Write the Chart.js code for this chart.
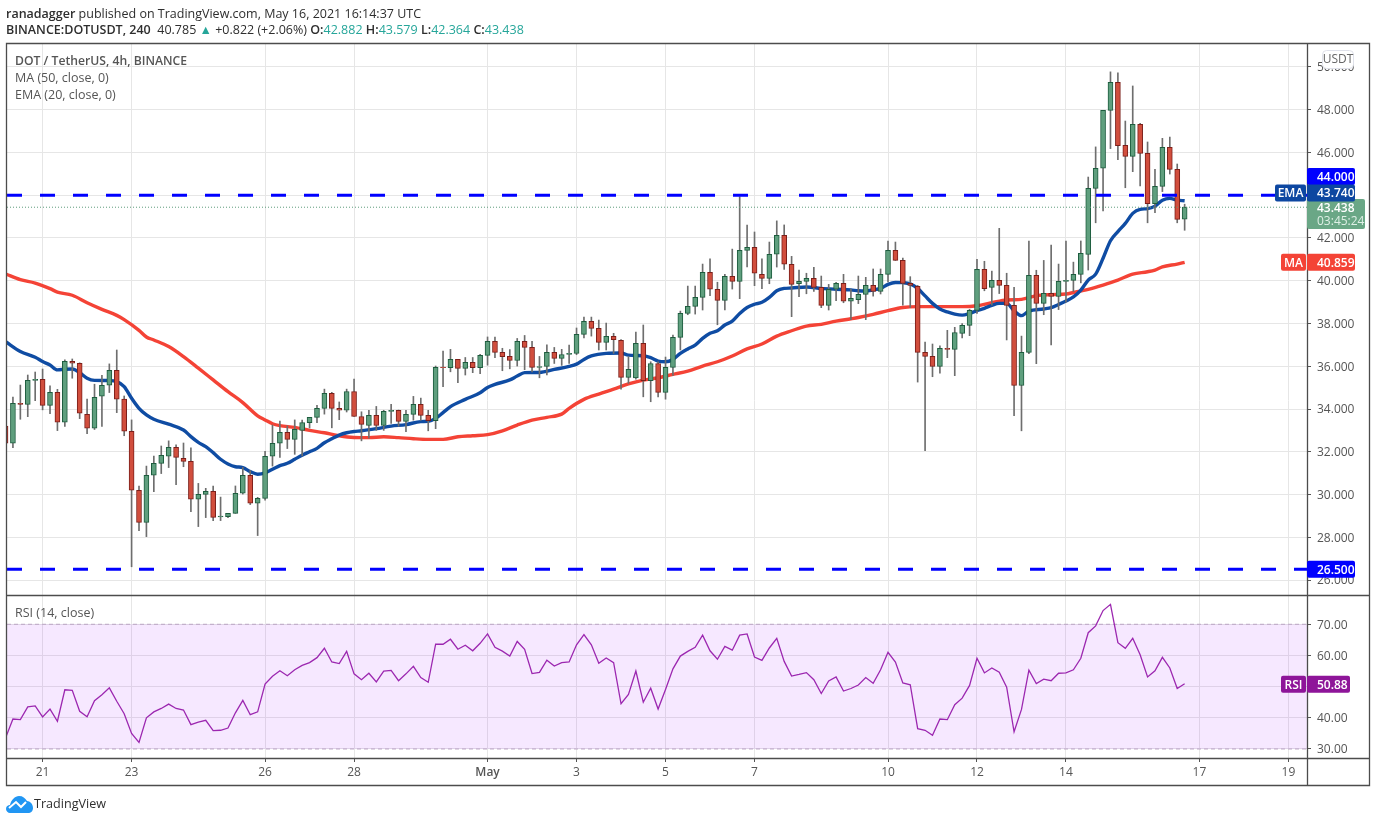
<!DOCTYPE html>
<html>
<head>
<meta charset="utf-8">
<title>DOT / TetherUS</title>
<script src="https://cdn.jsdelivr.net/npm/chart.js@4/dist/chart.umd.min.js"></script>
<style>
  body { margin: 0; background: #fff; font-family: "Open Sans", sans-serif; overflow: hidden; }
  #wrap { position: relative; width: 1376px; height: 823px; }
  canvas { position: absolute; left: 0; top: 0; }
  .txt { position: absolute; white-space: nowrap; font-size: 12.5px; line-height: 16px; color: #555; }
  .head { color: #2e2e2e; }
  .up { color: #26a69a; }
  b { font-weight: 600; }
</style>
</head>
<body>
<div id="wrap">
  <canvas id="dot" width="1376" height="823"></canvas>
  <div class="txt head" style="left:6px;top:6px"><b>ranadagger</b> published on TradingView.com, May 16, 2021 16:14:37 UTC</div>
  <div class="txt head" style="left:6px;top:22px"><b>BINANCE:DOTUSDT, 240</b>&nbsp; 40.785 <span class="up">▲</span> +0.822 (+2.06%) <b>O:</b><span class="up">42.882</span> <b>H:</b><span class="up">43.579</span> <b>L:</b><span class="up">42.364</span> <b>C:</b><span class="up">43.438</span></div>
  <div class="txt" style="left:15px;top:53px;font-size:12.2px"><b>DOT / TetherUS, 4h, BINANCE</b></div>
  <div class="txt" style="left:15px;top:70px">MA (50, close, 0)</div>
  <div class="txt" style="left:15px;top:87px">EMA (20, close, 0)</div>
  <div class="txt" style="left:15px;top:605px">RSI (14, close)</div>
  <svg style="position:absolute;left:6px;top:796px" width="27" height="17" viewBox="0 0 27 17">
    <path d="M0 13 C0 10 2 9 4 9 C5 4 9 0 13 0 C17 0 19 2 21 5 C24 5 27 8 27 12 C27 15 25 17 22 17 L4 17 C2 17 0 15 0 13 Z" fill="#2196f3"/>
    <path d="M3 12 L10 6 L15 11 L20 6" fill="none" stroke="#fff" stroke-width="2"/>
  </svg>
  <div class="txt head" style="left:34px;top:796px;font-size:12.6px">TradingView</div>
</div>
<script>
// candles, 4h, k = 0 is 20 Apr 04:00
const opens = [
  33.2,32.40,34.27,34.22,35.34,35.39,34.17,34.78,33.38,36.23,
  36.14,33.75,33.10,34.60,35.11,35.81,34.46,32.96,30.20,28.70,
  30.90,31.46,31.79,32.21,31.69,31.55,29.78,30.01,30.15,28.95,
  28.96,29.12,30.06,30.90,29.59,29.82,31.79,32.40,32.91,32.58,
  33.00,33.36,33.61,34.03,34.73,34.03,33.94,34.82,33.65,33.23,
  33.70,33.23,33.89,33.94,33.42,33.75,34.22,33.70,33.45,35.96,
  35.93,36.32,35.90,36.18,35.93,36.51,37.16,36.65,36.46,36.27,
  37.16,36.88,35.95,35.99,36.65,36.37,36.55,36.60,37.49,38.10,
  37.77,37.12,37.40,37.21,35.48,35.45,37.07,35.32,36.13,34.78,
  35.95,37.35,38.47,38.80,39.22,40.39,39.60,39.08,40.21,39.97,
  41.42,41.56,40.30,40.11,41.24,42.12,40.77,39.86,39.97,40.11,
  39.69,38.85,39.60,39.88,39.04,39.11,39.36,39.78,39.50,40.30,
  41.42,40.95,39.88,39.74,36.65,36.46,35.99,36.84,36.79,37.54,
  37.91,38.61,40.53,39.69,40.02,39.78,38.85,35.10,36.65,40.25,
  38.94,39.41,39.27,39.97,40.02,40.30,41.23,44.32,45.26,47.97,
  49.28,46.33,45.82,47.32,45.96,43.60,44.41,46.24,45.21,42.88
];
const closes = [
  32.40,34.27,34.22,35.34,35.39,34.17,34.78,33.38,36.23,36.14,
  33.80,33.10,34.55,35.11,35.81,34.46,32.96,30.20,28.70,30.90,
  31.46,31.83,32.21,31.74,31.55,29.78,30.01,30.15,28.93,28.99,
  29.12,30.06,30.90,29.59,29.82,31.79,32.40,32.91,32.58,33.05,
  33.36,33.61,34.03,34.73,34.03,33.94,34.82,33.65,33.28,33.70,
  33.23,33.89,33.94,33.42,33.75,34.22,33.70,33.45,35.95,35.93,
  36.32,35.90,36.18,35.93,36.51,37.16,36.65,36.45,36.27,37.16,
  36.88,35.95,35.99,36.65,36.37,36.55,36.60,37.49,38.10,37.77,
  37.12,37.40,37.24,35.48,35.85,37.07,35.32,36.13,34.78,35.95,
  37.35,38.47,38.80,39.22,40.39,39.60,39.08,40.21,39.97,41.42,
  41.56,40.35,40.11,41.24,42.12,40.77,39.83,39.97,40.11,39.69,
  38.85,39.60,39.88,39.04,39.18,39.36,39.78,39.50,40.30,41.42,
  40.95,39.88,39.78,36.65,36.46,35.99,36.84,36.79,37.58,37.91,
  38.61,40.53,39.63,40.02,39.78,38.85,35.10,36.65,40.25,38.94,
  39.41,39.27,39.97,40.02,40.30,41.28,44.32,45.26,47.97,49.28,
  46.32,45.82,47.32,45.96,43.60,44.41,46.24,45.21,42.87,43.44
];
const highs = [
  33.6,34.56,35.12,35.59,35.73,35.87,35.08,34.92,36.30,36.34,
  36.16,34.47,35.16,35.58,36.11,36.76,34.61,33.49,30.40,31.33,
  31.80,32.27,32.51,32.32,32.41,32.18,30.52,30.29,30.40,29.88,
  29.12,30.40,31.27,31.12,29.87,32.02,33.25,33.44,33.21,33.49,
  33.48,33.61,34.17,34.93,34.78,34.33,34.93,35.40,33.87,33.94,
  34.12,33.94,34.22,33.95,33.94,34.59,34.51,33.94,36.01,36.71,
  36.79,36.32,36.41,36.41,36.56,37.37,37.37,36.84,36.78,37.30,
  37.44,37.16,36.46,37.00,36.88,36.79,36.99,37.79,38.30,38.30,
  38.16,38.02,37.54,37.25,36.45,37.60,37.93,36.21,36.21,36.43,
  37.46,38.58,39.75,39.75,40.78,41.02,39.93,40.30,41.48,43.93,
  42.60,42.28,41.02,41.81,42.80,42.61,41.14,40.50,40.35,40.63,
  40.22,39.83,39.93,40.30,39.61,40.22,40.16,40.55,40.55,41.86,
  41.81,41.06,40.19,39.78,37.13,37.04,36.95,37.68,37.82,38.00,
  38.66,41.00,40.91,40.45,42.45,40.35,39.69,37.41,41.86,40.49,
  40.95,41.67,40.78,41.86,40.87,41.86,44.85,46.26,47.97,49.77,
  49.72,47.47,49.11,47.36,46.49,45.21,46.66,46.72,45.46,43.58
];
const lows = [
  32.2,32.19,33.52,33.64,34.39,33.96,33.78,32.99,33.18,35.44,
  33.55,32.85,33.04,33.18,34.77,33.83,32.75,26.62,28.31,28.03,
  30.13,30.98,31.26,30.46,31.30,29.20,28.50,28.92,28.78,28.78,
  28.92,29.12,30.02,29.53,28.08,29.73,31.33,31.74,32.15,31.88,
  31.80,33.11,33.36,33.76,33.12,33.50,33.86,33.65,32.51,32.63,
  33.00,33.00,33.33,33.19,32.94,33.48,33.47,32.98,33.08,35.04,
  35.74,35.23,35.59,35.70,35.65,36.05,36.40,35.79,35.88,36.01,
  35.84,35.74,35.46,35.60,36.13,36.04,36.13,36.54,37.33,37.41,
  36.76,36.76,36.60,34.93,35.20,35.40,34.57,34.34,34.57,34.46,
  35.57,36.76,38.41,38.44,38.63,39.30,37.94,38.63,39.61,39.16,
  40.65,39.77,39.63,39.86,40.64,40.53,38.32,39.25,39.39,39.50,
  38.74,38.63,39.07,38.97,38.18,38.93,38.18,39.28,39.38,39.94,
  40.95,38.86,38.75,35.26,32.05,35.51,35.68,36.40,35.56,37.33,
  37.43,38.47,39.53,38.86,39.40,37.23,33.69,32.98,36.59,36.12,
  38.41,37.00,38.65,39.00,39.50,39.90,40.50,42.71,43.26,46.18,
  45.66,44.35,45.10,44.43,42.71,43.18,44.17,44.99,42.71,42.36
];

// EMA / MA at these candles
const emaIdx = [0,2,4,5,6,7,8,9,10,11,12,14,15,16,17,18,19,20,22,24,25,26,27,28,29,30,31,32,33,34,35,36,37,38,39,
  40,41,42,43,44,45,46,47,48,50,52,54,56,57,58,59,60,62,64,65,66,68,69,70,72,74,76,77,78,79,81,83,84,86,87,88,89,
  90,91,92,93,94,95,96,97,98,99,100,101,102,103,104,105,106,108,110,112,114,115,116,117,118,119,120,121,122,123,
  124,125,126,127,128,129,130,131,132,133,134,135,136,137,138,140,141,142,143,144,145,146,147,148,149,150,151,152,
  153,154,155,156,157,158,159];
const emaVal = [37.15,36.69,36.42,36.22,36.06,35.83,35.86,35.87,35.70,35.44,35.34,35.33,35.28,35.05,34.50,34.03,33.72,33.52,33.29,33.02,32.71,32.44,32.24,31.96,31.65,31.43,31.30,31.26,31.07,30.95,31.01,31.18,31.35,31.46,31.65,
  31.84,32.00,32.16,32.42,32.61,32.78,32.89,32.95,32.98,33.08,33.20,33.27,33.41,33.42,33.56,33.83,34.11,34.45,34.76,35.01,35.15,35.36,35.54,35.70,35.71,35.85,35.99,36.10,36.32,36.48,36.60,36.62,36.52,36.49,36.40,36.24,36.21,
  36.32,36.60,36.81,36.99,37.30,37.54,37.66,37.93,38.11,38.47,38.75,38.90,38.99,39.22,39.53,39.64,39.66,39.71,39.64,39.60,39.57,39.53,39.52,39.57,39.64,39.83,39.92,39.91,39.85,39.64,
  39.29,38.94,38.68,38.54,38.44,38.39,38.47,38.60,38.71,38.85,38.94,38.94,38.60,38.37,38.58,38.68,38.74,38.89,39.05,39.24,39.56,40.03,40.31,41.05,41.87,42.30,42.68,43.15,
  43.34,43.37,43.49,43.77,43.85,43.77,43.74];
const maIdx = [0,2,4,6,7,9,11,13,15,16,18,19,20,22,24,26,28,30,32,34,35,36,37,39,41,43,45,47,49,51,53,55,57,59,61,63,65,67,69,71,73,75,
  76,78,80,82,84,86,88,90,92,94,96,98,100,102,104,106,108,110,112,114,115,117,119,121,123,125,127,129,131,133,135,137,139,141,143,144,146,148,150,152,154,155,156,158,159];
const maVal = [40.32,40.05,39.89,39.63,39.47,39.32,38.97,38.66,38.38,38.18,37.68,37.37,37.23,36.92,36.45,35.91,35.36,34.81,34.30,33.68,33.49,33.31,33.22,33.14,33.00,32.89,32.75,32.67,32.66,32.70,32.66,32.61,32.58,32.58,32.70,32.75,32.80,32.98,33.25,33.48,33.61,33.76,
  34.03,34.45,34.70,34.93,35.17,35.35,35.46,35.62,35.77,36.01,36.21,36.48,36.81,37.04,37.41,37.66,37.88,37.96,38.11,38.22,38.28,38.43,38.60,38.75,38.79,38.79,38.79,38.79,38.83,38.97,39.10,39.13,39.30,39.35,39.38,39.45,39.60,39.80,40.03,40.31,40.42,40.50,40.65,40.78,40.86];
const rsiVal = [
  33.5,39.6,39.4,43.5,43.8,40.3,42.8,38.9,49.0,48.8,
  42.1,40.3,45.5,47.4,49.6,45.3,41.3,35.0,32.1,40.0,
  41.9,43.0,44.4,43.0,42.5,37.8,38.6,39.2,35.9,36.0,
  36.7,41.6,45.6,41.0,41.9,50.8,53.3,55.1,53.5,55.4,
  56.8,57.7,59.3,62.3,57.9,57.4,61.3,54.1,52.2,54.3,
  51.5,55.0,55.2,51.9,54.1,56.5,52.9,51.4,63.6,63.6,
  65.2,62.0,63.3,61.5,63.9,66.9,62.6,61.4,59.8,64.5,
  62.0,54.2,54.6,58.5,56.6,57.7,57.9,63.4,66.7,63.4,
  57.5,59.2,57.7,44.5,47.5,55.0,45.0,49.5,42.8,49.1,
  55.7,59.8,61.3,62.6,66.5,61.5,58.8,62.9,61.7,66.5,
  66.9,59.5,58.4,62.4,65.5,58.1,53.4,53.9,54.5,52.2,
  47.8,51.8,53.1,48.6,49.4,50.5,52.9,51.1,55.4,61.0,
  57.9,51.2,50.6,36.5,36.0,34.4,39.6,39.4,44.2,46.3,
  50.4,59.1,54.4,56.0,54.6,49.8,35.5,42.7,55.3,51.0,
  52.4,51.9,54.3,54.4,55.4,59.1,67.3,69.5,74.4,76.4,
  64.1,62.3,65.5,60.2,53.1,55.1,59.4,56.0,49.4,50.9
];

const priceTicks = [26,28,30,32,34,36,38,40,42,44,46,48,50];
const rsiTicks = [30,40,50,60,70];
const dayIdx = [5,17,35,47,65,77,89,101,119,131,143,161,173];
const dayLabels = ['21','23','26','28','May','3','5','7','10','12','14','17','19'];
const support = 26.5, resistance = 44, lastPrice = 43.438, rsiLow = 30, rsiHigh = 70;

const xMin = 0.2, xMax = 175.5;
const GREEN = '#5f9f7e', GREEN_DK = '#1d5c3e', RED = '#d14e3d', RED_DK = '#7c1f1a';
const isUp = closes.map((c, i) => c >= opens[i]);
const flatLine = v => [{x: xMin, y: v}, {x: xMax, y: v}];
const pairs = (idx, val) => idx.map((k, i) => ({x: k, y: val[i]}));

// right hand price tags, boxes stacked the way tradingview moves them apart
const tags = [
  {scale: 'y', v: 26.5, shift: 0, text: '26.500', bg: '#0000ff'},
  {scale: 'rsi', v: 50.88, shift: 0.4, text: '50.88', bg: '#8e1599', w: 43, name: 'RSI', nameW: 25},
  {scale: 'y', v: 40.859, shift: 0, text: '40.859', bg: '#f44336', name: 'MA', nameW: 25},
  {scale: 'y', v: 43.438, shift: 6.7, text: '43.438', sub: '03:45:24', bg: '#6aa786', w: 58},
  {scale: 'y', v: 44, shift: -18.7, text: '44.000', bg: '#0000ff'},
  {scale: 'y', v: 43.74, shift: -7.8, text: '43.740', bg: '#0d47a1', name: 'EMA', nameW: 31}
];

const panelBits = {
  id: 'panelBits',
  afterDraw(chart) {
    const c = chart.ctx, area = chart.chartArea;
    c.save();
    // frame
    c.strokeStyle = '#4c4c4c';
    c.lineWidth = 1.3;
    c.beginPath();
    c.rect(6.5, 43.5, 1363, 742);
    c.moveTo(6.5, 595.5); c.lineTo(1369.5, 595.5);
    c.moveTo(6.5, 758.5); c.lineTo(1369.5, 758.5);
    c.moveTo(area.right + 0.5, 43.5); c.lineTo(area.right + 0.5, 785.5);
    c.stroke();
    // tags
    c.textBaseline = 'middle';
    tags.forEach(t => {
      const mid = chart.scales[t.scale].getPixelForValue(t.v) + t.shift;
      const h = t.sub ? 30 : 17;
      c.fillStyle = t.bg;
      c.beginPath();
      c.roundRect(area.right, mid - h / 2, t.w || 48, h, 2);
      c.fill();
      if (t.name) {
        c.beginPath();
        c.roundRect(area.right - t.nameW - 1, mid - h / 2, t.nameW, h, 2);
        c.fill();
      }
      c.fillStyle = '#fff';
      c.font = '600 12px "Open Sans"';
      c.textAlign = 'left';
      c.fillText(t.text, area.right + 10, t.sub ? mid - 5 : mid + 1);
      if (t.sub) {
        c.font = '12px "Open Sans"';
        c.fillStyle = '#dff0e6';
        c.fillText(t.sub, area.right + 10, mid + 8);
      }
      if (t.name) {
        c.font = '600 12px "Open Sans"';
        c.fillStyle = '#fff';
        c.textAlign = 'center';
        c.fillText(t.name, area.right - 1 - t.nameW / 2, mid + 1);
      }
    });
    // EMA tag is drawn before the last price text in the reference stack, keep the price readable
    c.fillStyle = '#fff';
    c.strokeStyle = '#dfe1ea';
    c.lineWidth = 1;
    c.beginPath();
    c.roundRect(1322.5, 50.5, 31, 18, 4);
    c.fill();
    c.stroke();
    c.fillStyle = '#666';
    c.font = '12px "Open Sans"';
    c.textAlign = 'center';
    c.fillText('USDT', 1338, 60);
    c.restore();
  }
};

new Chart(document.getElementById('dot'), {
  type: 'line',
  plugins: [panelBits],
  data: {
    datasets: [
      {label: 'rsiTop', data: flatLine(rsiHigh), yAxisID: 'rsi', borderColor: '#bba6c4', borderWidth: 1, borderDash: [4, 3],
        backgroundColor: 'rgba(152,0,255,0.09)', fill: '+1', pointRadius: 0, order: 12},
      {label: 'rsiBottom', data: flatLine(rsiLow), yAxisID: 'rsi', borderColor: '#bba6c4', borderWidth: 1, borderDash: [4, 3],
        pointRadius: 0, order: 11},
      {label: 'MA', data: pairs(maIdx, maVal), borderColor: '#f44336', borderWidth: 3.4, cubicInterpolationMode: 'monotone', pointRadius: 0, order: 9},
      {label: 'EMA', data: pairs(emaIdx, emaVal), borderColor: '#0f4ca3', borderWidth: 3.4, cubicInterpolationMode: 'monotone', pointRadius: 0, order: 8},
      {label: 'wicks', type: 'bar', data: highs.map((h, i) => ({x: i, y: [lows[i], h]})), backgroundColor: '#6e6e6e',
        barThickness: 1, grouped: false, order: 7},
      {label: 'bodies', type: 'bar', data: opens.map((o, i) => ({x: i, y: [o, closes[i]]})),
        backgroundColor: isUp.map(u => u ? GREEN : RED), borderColor: isUp.map(u => u ? GREEN_DK : RED_DK),
        borderWidth: 1, borderSkipped: false, barThickness: 5, grouped: false, order: 6},
      {label: 'RSI', data: rsiVal.map((v, i) => ({x: i, y: v})), yAxisID: 'rsi', borderColor: '#9c27b0', borderWidth: 1.3, pointRadius: 0, order: 5},
      {label: 'last', data: flatLine(lastPrice), borderColor: '#5d9b7c', borderWidth: 1, borderDash: [1, 2], pointRadius: 0, order: 4},
      {label: 'resistance', data: flatLine(resistance), borderColor: '#0000ff', borderWidth: 3, borderDash: [15, 18], pointRadius: 0, order: 3},
      {label: 'support', data: flatLine(support), borderColor: '#0000ff', borderWidth: 3, borderDash: [15, 18], pointRadius: 0, order: 2}
    ]
  },
  options: {
    responsive: false,
    animation: false,
    layout: {padding: {left: 7, top: 43, right: 0, bottom: 0}},
    elements: {line: {tension: 0, fill: false}},
    plugins: {legend: {display: false}, tooltip: {enabled: false}},
    scales: {
      x: {
        type: 'linear', min: xMin, max: xMax, offset: false,
        grid: {color: '#e6e6e6', offset: false, tickLength: 4, tickColor: '#555'},
        border: {display: false},
        afterBuildTicks: s => { s.ticks = dayIdx.map(v => ({value: v})); },
        afterFit: s => { s.height = 65; },
        ticks: {
          autoSkip: false, maxRotation: 0, padding: 3, color: '#555',
          font: ctx => ({family: 'Open Sans', size: 12, weight: ctx.tick && ctx.tick.value === 65 ? '600' : '400'}),
          callback: v => dayLabels[dayIdx.indexOf(v)]
        }
      },
      y: {
        type: 'linear', position: 'right', stack: 'panes', stackWeight: 552, min: 25.3, max: 51.12,
        grid: {color: '#e6e6e6', tickLength: 4, tickColor: '#555'},
        border: {display: false},
        afterBuildTicks: s => { s.ticks = priceTicks.map(v => ({value: v})); },
        afterFit: s => { s.width = 69; },
        ticks: {padding: 6, labelOffset: 1, color: '#555', font: {family: 'Open Sans', size: 12}, callback: v => v.toFixed(3)}
      },
      rsi: {
        type: 'linear', position: 'right', stack: 'panes', stackWeight: 163, min: 27.1, max: 79.4,
        grid: {color: '#e6e6e6', tickLength: 4, tickColor: '#555'},
        border: {display: false},
        afterBuildTicks: s => { s.ticks = rsiTicks.map(v => ({value: v})); },
        afterFit: s => { s.width = 69; },
        ticks: {padding: 6, labelOffset: 1, color: '#555', font: {family: 'Open Sans', size: 12}, callback: v => v.toFixed(2)}
      }
    }
  }
});
</script>
</body>
</html>
